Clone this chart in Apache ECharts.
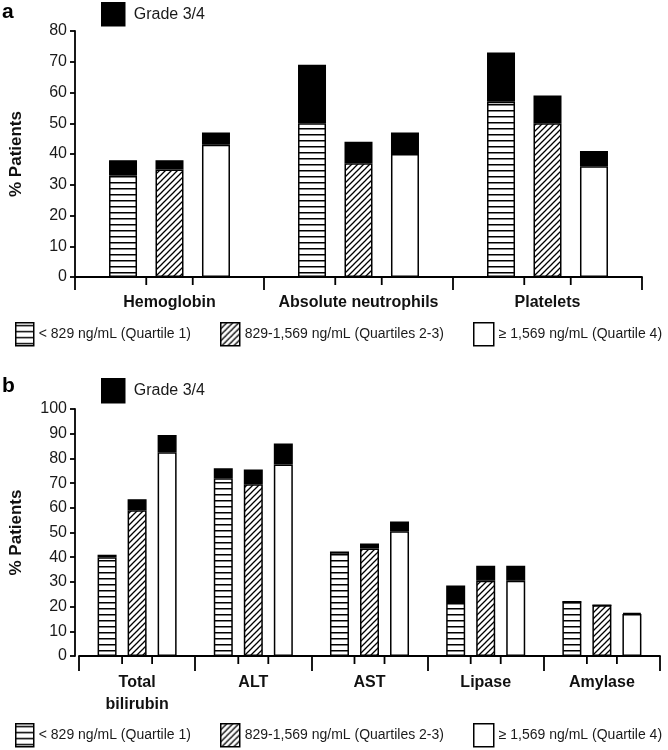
<!DOCTYPE html>
<html>
<head>
<meta charset="utf-8">
<script src="https://cdn.jsdelivr.net/npm/echarts@6/dist/echarts.min.js"></script>
<style>html,body{margin:0;padding:0;background:#fff}#c{width:668px;height:750px}</style>
</head>
<body>
<div id="c"></div>
<script>
// ---------- data ----------
const categoriesA = ['Hemoglobin', 'Absolute neutrophils', 'Platelets'];
const q1BaseA  = [33, 50, 57];
const q1GradeA = [5, 19, 16];
const q2BaseA  = [35, 37, 50];
const q2GradeA = [3, 7, 9];
const q4BaseA  = [43, 40, 36];
const q4GradeA = [4, 7, 5];

const categoriesB = ['Total\nbilirubin', 'ALT', 'AST', 'Lipase', 'Amylase'];
const q1BaseB  = [40, 72, 42, 21.5, 22];
const q1GradeB = [1, 4, 0, 7, 0];
const q2BaseB  = [59, 69.5, 43.5, 30.5, 20.5];
const q2GradeB = [4.5, 6, 2, 6, 0];
const q4BaseB  = [82.5, 77.5, 50.5, 30.5, 17];
const q4GradeB = [7, 8.5, 4, 6, 0.5];

const seriesNames = ['< 829 ng/mL (Quartile 1)', '829-1,569 ng/mL (Quartiles 2-3)', '\u2265 1,569 ng/mL (Quartile 4)'];
const gradeName = 'Grade 3/4';
const yTicksA = [0, 80, 10];
const yTicksB = [0, 100, 10];

// ---------- patterns ----------
function makePattern(kind) {
  const c = document.createElement('canvas');
  const ctx = c.getContext('2d');
  if (kind === 'h') {
    c.width = 6; c.height = 6;
    ctx.fillStyle = '#fff'; ctx.fillRect(0, 0, 6, 6);
    ctx.fillStyle = '#000'; ctx.fillRect(0, 2, 6, 1.5);
  } else {
    const s = 6;
    c.width = s; c.height = s;
    ctx.fillStyle = '#fff'; ctx.fillRect(0, 0, s, s);
    ctx.strokeStyle = '#000'; ctx.lineWidth = 1.3;
    ctx.beginPath();
    ctx.moveTo(-1, s + 1); ctx.lineTo(s + 1, -1);
    ctx.moveTo(-2, 2); ctx.lineTo(2, -2);
    ctx.moveTo(s - 2, s + 2); ctx.lineTo(s + 2, s - 2);
    ctx.stroke();
  }
  return { image: c, repeat: 'repeat' };
}
const fills = [makePattern('h'), makePattern('d'), '#fff'];

// ---------- layout ----------
const FONT = 'Liberation Sans, Arial, Helvetica, sans-serif';
const A = { left: 73, top: 31, right: 26, height: 246, barW: 28, gap: 0.66, tickMaj: 13, yOff: 0, labMargin: 15 };
const B = { left: 77, top: 409, right: 8, height: 247, barW: 19, gap: 0.58, tickMaj: 15, yOff: 4, labMargin: 16 };

const axisLineStyle = { color: '#000', width: 1.8 };

function xAxis(P, cats, gridIndex) {
  return {
    type: 'category', gridIndex, data: cats,
    axisLine: { lineStyle: axisLineStyle },
    axisTick: { show: true, length: P.tickMaj, lineStyle: axisLineStyle, alignWithLabel: false },
    axisLabel: { fontFamily: FONT, fontWeight: 'bold', fontSize: 16, color: '#111', margin: P.labMargin, lineHeight: 22, interval: 0 },
    splitLine: { show: false }
  };
}

function yAxis(P, t, gridIndex) {
  return {
    type: 'value', gridIndex, min: t[0], max: t[1], interval: t[2], offset: P.yOff,
    name: '% Patients', nameLocation: 'middle', nameGap: 50,
    nameTextStyle: { fontFamily: FONT, fontWeight: 'bold', fontSize: 17, color: '#111' },
    axisLine: { show: true, lineStyle: axisLineStyle },
    axisTick: { show: true, length: 5, lineStyle: axisLineStyle },
    axisLabel: { fontFamily: FONT, fontSize: 16, color: '#1a1a1a', margin: 8 },
    splitLine: { show: false }
  };
}

// small ticks between the bars of a group, placed from the category axis
function minorTickSeries(P, cats, xi, yi) {
  const half = P.barW * (1 + P.gap) / 2;
  return {
    type: 'custom', xAxisIndex: xi, yAxisIndex: yi, silent: true, clip: false,
    data: cats.map((c, i) => [i, 0]),
    renderItem: function (params, api) {
      const p = api.coord([api.value(0), 0]);
      const mk = (x) => ({ type: 'line', shape: { x1: x, y1: p[1], x2: x, y2: p[1] + 8 }, style: { stroke: '#000', lineWidth: 1.8 } });
      return { type: 'group', children: [mk(p[0] - half), mk(p[0] + half)] };
    },
    z: 3
  };
}

function panelSeries(P, xi, yi, bases, grades, pid) {
  const out = [];
  for (let k = 0; k < 3; k++) {
    const stack = pid + 's' + k;
    out.push({
      name: seriesNames[k], type: 'bar', xAxisIndex: xi, yAxisIndex: yi, stack,
      barWidth: P.barW, barGap: (P.gap * 100) + '%', data: bases[k],
      itemStyle: { color: fills[k], borderColor: '#000', borderWidth: 1.5 },
      emphasis: { disabled: true }, silent: true
    });
    out.push({
      name: gradeName, type: 'bar', xAxisIndex: xi, yAxisIndex: yi, stack,
      barWidth: P.barW, barGap: (P.gap * 100) + '%', data: grades[k],
      itemStyle: { color: '#000', borderColor: '#000', borderWidth: 1.5 },
      emphasis: { disabled: true }, silent: true
    });
  }
  return out;
}

function legendItem(name, left, top, w, h) {
  return {
    data: [name], left, top, padding: 0, itemWidth: w, itemHeight: h, icon: 'rect',
    selectedMode: false,
    itemStyle: { borderColor: '#000', borderWidth: 1.5 },
    textStyle: { fontFamily: FONT, fontSize: name === gradeName ? 16 : 14, color: '#1a1a1a', padding: [0, 0, 0, name === gradeName ? 4 : 0] }
  };
}

const option = {
  animation: false,
  backgroundColor: '#fff',
  title: [
    { text: 'a', left: 2, top: 2, padding: 0, textStyle: { fontFamily: FONT, fontWeight: 'bold', fontSize: 21, color: '#000' } },
    { text: 'b', left: 2, top: 376, padding: 0, textStyle: { fontFamily: FONT, fontWeight: 'bold', fontSize: 21, color: '#000' } }
  ],
  legend: [
    legendItem(gradeName, 101, 2, 23, 23),
    legendItem(seriesNames[0], 15, 322, 18, 23),
    legendItem(seriesNames[1], 220, 322, 19, 23),
    legendItem(seriesNames[2], 473, 322, 20, 23),
    legendItem(gradeName, 101, 378, 23, 24),
    legendItem(seriesNames[0], 15, 723, 18, 23),
    legendItem(seriesNames[1], 220, 723, 19, 23),
    legendItem(seriesNames[2], 473, 723, 20, 23)
  ],
  grid: [
    { left: A.left, top: A.top, right: A.right, height: A.height, containLabel: false },
    { left: B.left, top: B.top, right: B.right, height: B.height, containLabel: false }
  ],
  xAxis: [xAxis(A, categoriesA, 0), xAxis(B, categoriesB, 1)],
  yAxis: [yAxis(A, yTicksA, 0), yAxis(B, yTicksB, 1)],
  series: [].concat(
    panelSeries(A, 0, 0, [q1BaseA, q2BaseA, q4BaseA], [q1GradeA, q2GradeA, q4GradeA], 'a'),
    panelSeries(B, 1, 1, [q1BaseB, q2BaseB, q4BaseB], [q1GradeB, q2GradeB, q4GradeB], 'b'),
    [minorTickSeries(A, categoriesA, 0, 0), minorTickSeries(B, categoriesB, 1, 1)]
  )
};

const chart = echarts.init(document.getElementById('c'), null, { renderer: 'canvas' });
chart.setOption(option);
</script>
</body>
</html>
